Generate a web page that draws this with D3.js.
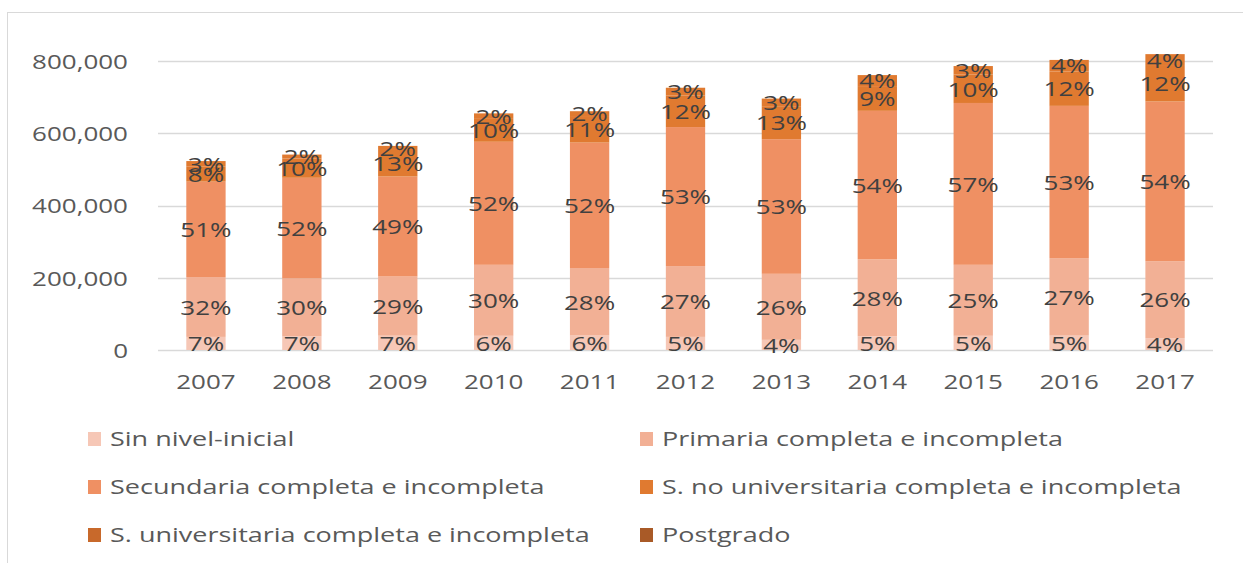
<!DOCTYPE html>
<meta charset="utf-8">
<script src="https://d3js.org/d3.v7.min.js"></script>
<style>
  body { margin: 0; background: #fff; }
  text { font-family: "Open Sans", Arial, sans-serif; }
</style>
<div id="chart"></div>
<script>

// years and bar totals (persons)
var years = ["2007", "2008", "2009", "2010", "2011", "2012", "2013", "2014", "2015", "2016", "2017"];
var totals = [523000, 541000, 565000, 655000, 661000, 726000, 696000, 761000, 786000, 803000, 819000];

var seriesNames = ["Sin nivel-inicial", "Primaria completa e incompleta", "Secundaria completa e incompleta",
  "S. no universitaria completa e incompleta", "S. universitaria completa e incompleta", "Postgrado"];

// share of each level in every year (%), as the data labels show
var pctSinNivel    = [7, 7, 7, 6, 6, 5, 4, 5, 5, 5, 4];
var pctPrimaria    = [32, 30, 29, 30, 28, 27, 26, 28, 25, 27, 26];
var pctSecundaria  = [51, 52, 49, 52, 52, 53, 53, 54, 57, 53, 54];
var pctNoUniv      = [8, 10, 13, 10, 11, 12, 13, 9, 10, 12, 12];
var pctUniv        = [3, 2, 2, 2, 2, 3, 3, 4, 3, 4, 4];
var pctPostgrado   = [0, 0, 0, 0, 0, 0, 0, 0, 0, 0, 0];

var yTicks = [0, 200000, 400000, 600000, 800000];

var legendColors = ["#f6c7b6", "#f2b095", "#ef9063", "#e07a30", "#c8692b", "#a95a27"];
var barColors    = ["#f6c7b6", "#f2b095", "#ef9063", "#e07a30", "#e07a30", "#a95a27"];

var W = 1243, H = 563;
var stretch = 1.3;   // the picture's text is drawn wide

var pcts = [pctSinNivel, pctPrimaria, pctSecundaria, pctNoUniv, pctUniv, pctPostgrado];

// build one row per year: absolute value of each level
var rows = years.map(function(y, i) {
  var sum = d3.sum(pcts, function(p) { return p[i]; });
  var r = {year: y};
  seriesNames.forEach(function(s, k) {
    r[s] = totals[i] * pcts[k][i] / sum;
    r[s + "_pct"] = pcts[k][i];
  });
  return r;
});

var svg = d3.select("#chart").append("svg")
  .attr("width", W)
  .attr("height", H);

// chart border
svg.append("rect")
  .attr("x", 7.5).attr("y", 12.5)
  .attr("width", W).attr("height", H)
  .attr("fill", "none")
  .attr("stroke", "#d9d9d9");

var x = d3.scaleBand()
  .domain(years)
  .range([158, 1213])
  .paddingInner(0.59)
  .paddingOuter(0.295);

var y = d3.scaleLinear()
  .domain([0, 800000])
  .range([350, 61]);

var color = d3.scaleOrdinal().domain(seriesNames).range(barColors);

function wideText(sel, px, py, k) {
  k = k || stretch;
  sel.attr("x", 0).attr("y", 0)
    .attr("transform", function(d, i) {
      return "translate(" + px(d, i) + "," + py(d, i) + ") scale(" + k + ",1)";
    });
}

// gridlines
svg.append("g")
  .selectAll("line")
  .data(yTicks)
  .enter()
  .append("line")
    .attr("x1", 158).attr("x2", 1213)
    .attr("y1", function(d) { return Math.round(y(d)) + 0.5; })
    .attr("y2", function(d) { return Math.round(y(d)) + 0.5; })
    .attr("stroke", "#d9d9d9")
    .attr("stroke-width", 1.5);

// y tick labels
svg.append("g")
  .selectAll("text")
  .data(yTicks)
  .enter()
  .append("text")
    .call(wideText, function() { return 128; }, function(d) { return y(d); })
    .attr("text-anchor", "end")
    .attr("dominant-baseline", "central")
    .attr("font-size", "20px")
    .attr("fill", "#595959")
    .text(d3.format(","));

// x labels
svg.append("g")
  .selectAll("text")
  .data(years)
  .enter()
  .append("text")
    .call(wideText, function(d) { return x(d) + x.bandwidth() / 2; }, function() { return 381; })
    .attr("text-anchor", "middle")
    .attr("dominant-baseline", "central")
    .attr("font-size", "20px")
    .attr("fill", "#595959")
    .text(function(d) { return d; });

var stacked = d3.stack().keys(seriesNames)(rows);

var layers = svg.append("g")
  .selectAll("g")
  .data(stacked)
  .enter()
  .append("g")
    .attr("fill", function(d) { return color(d.key); });

layers.selectAll("rect")
  .data(function(d) { return d; })
  .enter()
  .append("rect")
    .attr("x", function(d) { return x(d.data.year); })
    .attr("y", function(d) { return y(d[1]); })
    .attr("width", x.bandwidth())
    .attr("height", function(d) { return y(d[0]) - y(d[1]); });

// percentage labels, centred in each segment
stacked.forEach(function(layer) {
  svg.append("g")
    .selectAll("text")
    .data(layer.filter(function(d) { return d.data[layer.key + "_pct"] > 0; }))
    .enter()
    .append("text")
      .call(wideText, function(d) { return x(d.data.year) + x.bandwidth() / 2; },
                      function(d) { return (y(d[0]) + y(d[1])) / 2; })
      .attr("text-anchor", "middle")
      .attr("dominant-baseline", "central")
      .attr("font-size", "20px")
      .attr("fill", "#404040")
      .text(function(d) { return d.data[layer.key + "_pct"] + "%"; });
});

// legend, two columns
var legend = svg.append("g")
  .selectAll("g")
  .data(seriesNames)
  .enter()
  .append("g")
    .attr("transform", function(d, i) {
      return "translate(" + (i % 2 ? 640 : 88) + "," + (439 + Math.floor(i / 2) * 48) + ")";
    });

legend.append("rect")
  .attr("x", 0).attr("y", -7)
  .attr("width", 13).attr("height", 14)
  .attr("fill", function(d, i) { return legendColors[i]; });

legend.append("text")
  .call(wideText, function() { return 22; }, function() { return -1; }, 1.35)
  .attr("dominant-baseline", "central")
  .attr("font-size", "20px")
  .attr("fill", "#595959")
  .text(function(d) { return d; });

</script>
